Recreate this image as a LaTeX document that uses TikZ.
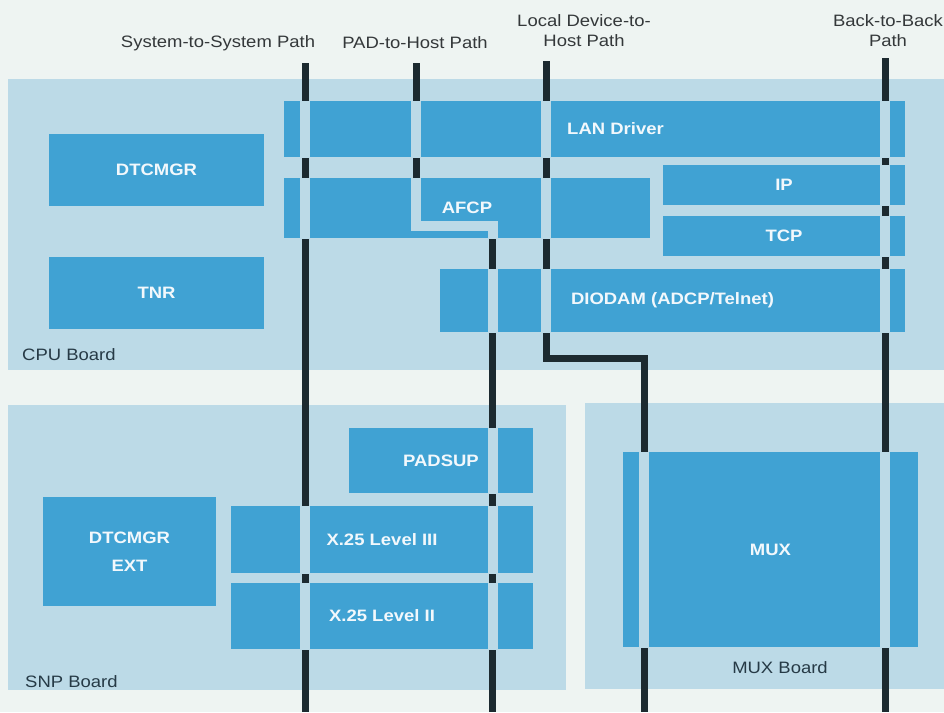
\documentclass[tikz,border=0pt]{standalone}
\usepackage{fontspec}
\setmainfont{Liberation Sans}[FakeStretch=1.12]
\definecolor{paper}{RGB}{238,244,242}
\definecolor{boardblue}{RGB}{188,218,231}
\definecolor{modblue}{RGB}{64,162,211}
\definecolor{pathdark}{RGB}{28,42,48}
\definecolor{headgray}{RGB}{52,56,58}
\definecolor{boardtext}{RGB}{38,58,70}
\definecolor{modtext}{RGB}{242,248,252}
% the four paths, used again to cut the gaps in every module
\newcommand\allroutes{(sysT) -- (sysB) (padT) |- (padK) -- (padB) (locT) |- (locK) -- (locB) (bbT) -- (bbB)}

\begin{document}
\begin{tikzpicture}[x=1pt, y=-1pt,
  brd/.style={fill=boardblue, inner sep=0pt},
  modtxt/.style={text=modtext, font=\fontsize{16.5}{28}\selectfont\bfseries, align=center},
  mod/.style={fill=modblue, inner sep=0pt, modtxt, path picture={\draw[gapline] \allroutes;}},
  route/.style={draw=pathdark, line width=7pt},
  gapline/.style={draw=boardblue, line width=10pt},
  head/.style={text=headgray, inner sep=0pt, font=\fontsize{16.5}{20}\selectfont, align=center},
  brdlab/.style={text=boardtext, inner sep=0pt, font=\fontsize{16.5}{20}\selectfont}]
  \fill[paper] (0,0) rectangle (944,712);
  \useasboundingbox (0,0) rectangle (944,712);

  % path titles
  \node[head] (syshead) at (218,43) {System-to-System Path};
  \node[head] (padhead) at (415,43) {PAD-to-Host Path};
  \node[head] (lochead) at (584,31) {Local Device-to-\\Host Path};
  \node[head] (bbhead) at (888,31) {Back-to-Back\\Path};

  % boards
  \node[brd, minimum width=936pt, minimum height=291pt] (cpu) at (476,224.5) {};
  \node[brd, minimum width=558pt, minimum height=285pt] (snp) at (287,547.5) {};
  \node[brd, minimum width=359pt, minimum height=286pt] (muxb) at (764.5,546) {};
  \node[brdlab, anchor=west] (cpulab) at (22,355) {CPU Board};
  \node[brdlab, anchor=west] (snplab) at (25,682) {SNP Board};
  \node[brdlab] (muxlab) at (780,668) {MUX Board};

  % paths
  \coordinate (sysT) at (305,63);   \coordinate (sysB) at (305,712);
  \coordinate (padT) at (416,63);   \coordinate (padK) at (492.5,225.5);
  \coordinate (padB) at (492.5,712);
  \coordinate (locT) at (546,61);   \coordinate (locK) at (644,358);
  \coordinate (locB) at (644,712);
  \coordinate (bbT) at (885,58);    \coordinate (bbB) at (885,712);
  \draw[route] (sysT) -- (sysB);
  \draw[route] (padT) |- (padK) -- (padB);
  \draw[route] (locT) |- (locK) -- (locB);
  \draw[route] (bbT) -- (bbB);

  % CPU board modules
  \node[mod, minimum width=215pt, minimum height=72pt] (dtcmgr) at (156.5,170) {DTCMGR};
  \node[mod, minimum width=215pt, minimum height=72pt] (tnr) at (156.5,293) {TNR};
  \node[mod, minimum width=621pt, minimum height=56pt,
    label={[modtxt, xshift=21pt]center:LAN Driver}] (lan) at (594.5,129) {};
  \node[mod, minimum width=366pt, minimum height=60pt] (afcp) at (467,208) {AFCP};
  \node[mod, minimum width=242pt, minimum height=40pt] (ip) at (784,185) {IP};
  \node[mod, minimum width=242pt, minimum height=40pt] (tcp) at (784,236) {TCP};
  \node[mod, minimum width=465pt, minimum height=63pt] (diodam) at (672.5,300.5) {DIODAM (ADCP/Telnet)};

  % SNP board modules
  \node[mod, minimum width=184pt, minimum height=65pt] (padsup) at (441,460.5) {PADSUP};
  \node[mod, minimum width=302pt, minimum height=67pt] (xlev3) at (382,539.5) {X.25 Level III};
  \node[mod, minimum width=302pt, minimum height=66pt] (xlev2) at (382,616) {X.25 Level II};
  \node[mod, minimum width=173pt, minimum height=109pt] (dtcext) at (129.5,551.5) {DTCMGR\\EXT};

  % MUX board
  \node[mod, minimum width=295pt, minimum height=195pt] (mux) at (770.5,549.5) {MUX};
\end{tikzpicture}
\end{document}
